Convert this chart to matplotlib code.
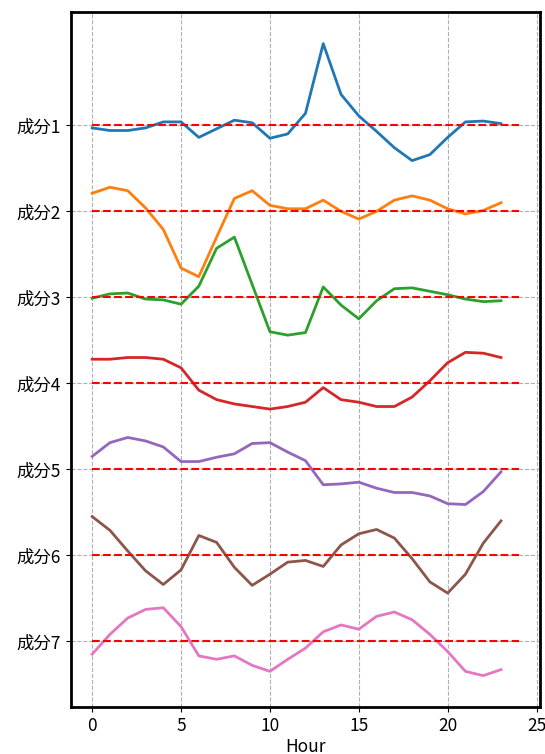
import matplotlib

matplotlib.use("Agg")
import matplotlib.pyplot as plt
import numpy as np

plt.rcParams["font.family"] = ["Noto Sans CJK JP", "DejaVu Sans"]

hours = list(range(24))
labels = ["成分1", "成分2", "成分3", "成分4", "成分5", "成分6", "成分7"]

comp1 = [-0.03, -0.06, -0.06, -0.03, 0.04, 0.04, -0.14, -0.04, 0.06, 0.03, -0.15, -0.10,
         0.14, 0.95, 0.36, 0.11, -0.07, -0.26, -0.41, -0.34, -0.14, 0.04, 0.05, 0.02]
comp2 = [0.21, 0.28, 0.24, 0.04, -0.21, -0.66, -0.76, -0.30, 0.15, 0.24, 0.07, 0.03,
         0.03, 0.13, 0.00, -0.09, 0.00, 0.13, 0.18, 0.13, 0.03, -0.03, 0.01, 0.10]
comp3 = [-0.01, 0.04, 0.05, -0.02, -0.03, -0.08, 0.13, 0.57, 0.70, 0.15, -0.40, -0.44,
         -0.41, 0.12, -0.09, -0.25, -0.04, 0.10, 0.11, 0.07, 0.03, -0.02, -0.05, -0.04]
comp4 = [0.28, 0.28, 0.30, 0.30, 0.28, 0.18, -0.08, -0.19, -0.24, -0.27, -0.30, -0.27,
         -0.22, -0.05, -0.19, -0.22, -0.27, -0.27, -0.16, 0.03, 0.24, 0.36, 0.35, 0.30]
comp5 = [0.15, 0.31, 0.37, 0.33, 0.26, 0.09, 0.09, 0.14, 0.18, 0.30, 0.31, 0.20,
         0.10, -0.18, -0.17, -0.15, -0.22, -0.27, -0.27, -0.31, -0.40, -0.41, -0.26, -0.03]
comp6 = [0.45, 0.29, 0.05, -0.18, -0.34, -0.17, 0.23, 0.15, -0.14, -0.35, -0.22, -0.08,
         -0.06, -0.13, 0.12, 0.25, 0.30, 0.20, -0.04, -0.31, -0.44, -0.22, 0.14, 0.40]
comp7 = [-0.15, 0.08, 0.27, 0.37, 0.39, 0.17, -0.17, -0.21, -0.17, -0.28, -0.35, -0.21,
         -0.08, 0.11, 0.19, 0.14, 0.29, 0.34, 0.25, 0.08, -0.12, -0.35, -0.40, -0.33]

components = [comp1, comp2, comp3, comp4, comp5, comp6, comp7]
offsets = [-i for i in range(len(components))]

fig = plt.figure(figsize=(5.45, 7.54), dpi=100)
ax = fig.add_axes([0.130, 0.062, 0.861, 0.922])

for i, (vals, off) in enumerate(zip(components, offsets)):
    ax.plot(hours, np.array(vals) + off, color=f"C{i}", lw=2)
    ax.hlines(off, 0, 24, colors="red", linestyles="--", lw=1.5)

ax.set_yticks(offsets)
ax.set_yticklabels(labels, fontsize=12.5)
ax.set_xticks([0, 5, 10, 15, 20, 25])
ax.tick_params(axis="x", labelsize=12.5)
ax.set_xlabel("Hour", fontsize=12.5, labelpad=2)
ax.grid(True, linestyle="--", color="#b0b0b0", lw=0.8)
for sp in ax.spines.values():
    sp.set_linewidth(2)
    sp.set_color("black")

fig.savefig("out.png", dpi=100)
